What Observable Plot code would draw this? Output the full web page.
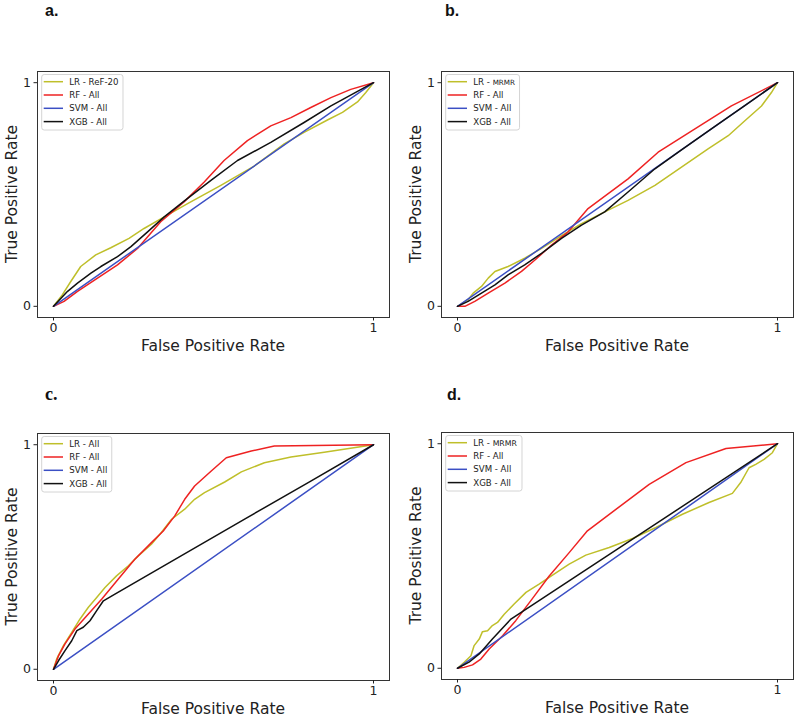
<!DOCTYPE html>
<html>
<head>
<meta charset="utf-8">
<script src="https://cdn.jsdelivr.net/npm/d3@7"></script>
<script src="https://cdn.jsdelivr.net/npm/@observablehq/plot@0.6"></script>
<style>
  html, body { margin: 0; padding: 0; background: #fff; }
  #root { position: relative; width: 797px; height: 718px; background: #fff; overflow: hidden; }
  #root svg.panel { position: absolute; }
  #overlay { position: absolute; left: 0; top: 0; pointer-events: none; }
</style>
</head>
<body>
<div id="root"></div>
<script>
// ---------- data ----------
const series = ["LR", "RF", "SVM", "XGB"];
const colors = ["#bfbf2a", "#ee2222", "#3b4fc4", "#111111"];
const xTicks = [0, 1];
const yTicks = [0, 1];
const xTitle = "False Positive Rate";
const yTitle = "True Positive Rate";
const panelLabels = ["a.", "b.", "c.", "d."];
const legendA = ["LR - ReF-20", "RF - All", "SVM - All", "XGB - All"];
const legendB = ["LR - MRMR", "RF - All", "SVM - All", "XGB - All"];
const legendC = ["LR - All", "RF - All", "SVM - All", "XGB - All"];
const legendD = ["LR - MRMR", "RF - All", "SVM - All", "XGB - All"];

// panel a
const aLR = [[0,0],[0.028,0.052],[0.054,0.111],[0.085,0.178],[0.132,0.230],[0.179,0.262],[0.236,0.304],[0.283,0.348],[0.346,0.400],[0.419,0.459],[0.523,0.541],[0.627,0.627],[0.721,0.726],[0.783,0.778],[0.856,0.833],[0.903,0.867],[0.95,0.914],[0.976,0.956],[1,1]];
const aRF = [[0,0],[0.033,0.022],[0.075,0.067],[0.1375,0.126],[0.2,0.185],[0.2625,0.259],[0.335,0.378],[0.408,0.467],[0.471,0.556],[0.533,0.652],[0.606,0.741],[0.679,0.807],[0.742,0.844],[0.804,0.889],[0.867,0.933],[0.929,0.970],[1,1]];
const aSVM = [[0,0],[1,1]];
const aXGB = [[0,0],[0.044,0.067],[0.075,0.104],[0.117,0.148],[0.148,0.178],[0.2,0.222],[0.242,0.267],[0.294,0.333],[0.346,0.4],[0.408,0.47],[0.492,0.563],[0.575,0.652],[0.679,0.733],[0.783,0.822],[0.867,0.896],[0.94,0.953],[1,1]];

// panel b
const bLR = [[0,0],[0.033,0.030],[0.049,0.059],[0.075,0.089],[0.096,0.126],[0.117,0.156],[0.158,0.178],[0.210,0.215],[0.2625,0.259],[0.325,0.316],[0.3875,0.370],[0.460,0.422],[0.533,0.474],[0.617,0.541],[0.7,0.622],[0.783,0.704],[0.846,0.763],[0.898,0.830],[0.95,0.896],[0.981,0.956],[1,1]];
const bRF = [[0,0],[0.023,0],[0.054,0.022],[0.096,0.059],[0.148,0.104],[0.2,0.156],[0.242,0.207],[0.294,0.274],[0.346,0.333],[0.408,0.437],[0.471,0.504],[0.533,0.570],[0.627,0.689],[0.742,0.793],[0.856,0.896],[1,1]];
const bSVM = [[0,0],[1,1]];
const bXGB = [[0,0],[0.033,0.022],[0.075,0.059],[0.117,0.096],[0.158,0.141],[0.210,0.185],[0.2625,0.237],[0.325,0.304],[0.3875,0.363],[0.460,0.422],[0.533,0.511],[0.617,0.615],[0.7,0.7],[0.8,0.8],[0.9,0.9],[1,1]];

// panel c
const cLR = [[0,0],[0.010,0.046],[0.031,0.105],[0.057,0.164],[0.083,0.224],[0.109,0.276],[0.135,0.32],[0.161,0.364],[0.197,0.416],[0.234,0.461],[0.265,0.505],[0.306,0.557],[0.337,0.609],[0.369,0.668],[0.41,0.713],[0.441,0.757],[0.472,0.787],[0.535,0.834],[0.587,0.879],[0.659,0.92],[0.742,0.945],[0.846,0.967],[1,1]];
const cRF = [[0,0],[0.016,0.061],[0.036,0.113],[0.067,0.179],[0.109,0.246],[0.151,0.313],[0.202,0.401],[0.254,0.49],[0.306,0.564],[0.343,0.616],[0.379,0.683],[0.41,0.757],[0.441,0.816],[0.493,0.883],[0.54,0.942],[0.618,0.972],[0.69,0.994],[1,1]];
const cSVM = [[0,0],[1,1]];
const cXGB = [[0,0],[0.016,0.039],[0.036,0.083],[0.057,0.127],[0.073,0.172],[0.093,0.187],[0.114,0.216],[0.135,0.261],[0.156,0.305],[0.192,0.335],[0.4,0.506],[0.6,0.671],[0.8,0.835],[1,1]];

// panel d
const dLR = [[0,0],[0.021,0.027],[0.042,0.056],[0.052,0.101],[0.068,0.130],[0.078,0.163],[0.094,0.167],[0.109,0.190],[0.125,0.204],[0.146,0.241],[0.177,0.286],[0.214,0.338],[0.255,0.375],[0.297,0.415],[0.349,0.464],[0.401,0.504],[0.474,0.538],[0.547,0.578],[0.620,0.627],[0.703,0.686],[0.786,0.738],[0.859,0.779],[0.885,0.827],[0.911,0.893],[0.932,0.908],[0.958,0.930],[0.984,0.960],[1,1]];
const dRF = [[0,0],[0.021,0.004],[0.047,0.015],[0.073,0.041],[0.099,0.086],[0.141,0.145],[0.182,0.212],[0.234,0.31],[0.286,0.41],[0.349,0.515],[0.406,0.612],[0.495,0.708],[0.599,0.819],[0.714,0.916],[0.839,0.979],[1,1]];
const dSVM = [[0,0],[1,1]];
const dXGB = [[0,0],[0.036,0.027],[0.068,0.064],[0.109,0.130],[0.167,0.219],[0.578,0.604],[1,1]];

// ---------- layout ----------
const layout = [
  {left: 0,   top: 0,   width: 400, height: 360, mt: 71, mr: 11, mb: 43, ml: 37, lab: [45, 15.5], labFont: "bold 16px 'Liberation Sans'"},
  {left: 400, top: 0,   width: 397, height: 360, mt: 71, mr: 4,  mb: 43, ml: 41, lab: [45, 15.5], labFont: "bold 16px 'Liberation Sans'"},
  {left: 0,   top: 360, width: 400, height: 358, mt: 73, mr: 11, mb: 38, ml: 37, lab: [45, 40],   labFont: "bold 18px 'Liberation Serif'"},
  {left: 400, top: 360, width: 397, height: 358, mt: 72, mr: 4,  mb: 39, ml: 41, lab: [47, 39.5], labFont: "bold 16px 'Liberation Sans'"}
];
const panelData = [
  [aLR, aRF, aSVM, aXGB],
  [bLR, bRF, bSVM, bXGB],
  [cLR, cRF, cSVM, cXGB],
  [dLR, dRF, dSVM, dXGB]
];
const legends = [legendA, legendB, legendC, legendD];

const root = document.getElementById("root");

panelData.forEach((sets, i) => {
  const L = layout[i];
  const lineMarks = sets.map((pts, k) =>
    Plot.line(pts.map(([x, y]) => ({x, y, series: series[k]})),
      {x: "x", y: "y", stroke: "series", strokeWidth: 1.5, strokeLinejoin: "round"}));
  const svg = Plot.plot({
    width: L.width, height: L.height,
    marginTop: L.mt, marginRight: L.mr, marginBottom: L.mb, marginLeft: L.ml,
    x: {domain: [-0.05, 1.05], label: null},
    y: {domain: [-0.05, 1.05], label: null},
    color: {domain: series, range: colors},
    style: {background: "transparent", fontFamily: "DejaVu Sans", color: "#222", overflow: "visible"},
    marks: [
      ...lineMarks,
      Plot.frame({stroke: "#333", strokeWidth: 1}),
      Plot.axisX(xTicks, {tickSize: 3.5, tickPadding: 2.5, fontSize: 12.5, label: null, tickFormat: d3.format("d")}),
      Plot.axisY(yTicks, {tickSize: 3.5, tickPadding: 3, fontSize: 12.5, label: null, tickFormat: d3.format("d")})
    ]
  });
  svg.classList.add("panel");
  svg.style.left = L.left + "px";
  svg.style.top = L.top + "px";
  root.appendChild(svg);
});

// ---------- overlay: panel labels, axis titles, legends ----------
const ov = d3.select(root).append("svg")
  .attr("id", "overlay").attr("width", 797).attr("height", 718);

layout.forEach((L, i) => {
  const fl = L.left + L.ml, fr = L.left + L.width - L.mr;
  const ft = L.top + L.mt, fb = L.top + L.height - L.mb;

  ov.append("text").attr("x", L.left + L.lab[0]).attr("y", L.top + L.lab[1])
    .style("font", L.labFont).attr("fill", "#111").text(panelLabels[i]);

  ov.append("text").attr("x", (fl + fr) / 2).attr("y", fb + 33.7)
    .attr("text-anchor", "middle").style("font", "15.5px 'DejaVu Sans'").attr("fill", "#222").text(xTitle);

  ov.append("text").attr("transform", `translate(${fl - 20.3},${(ft + fb) / 2}) rotate(-90)`)
    .attr("text-anchor", "middle").style("font", "15.5px 'DejaVu Sans'").attr("fill", "#222").text(yTitle);

  const g = ov.append("g");
  const box = g.append("rect").attr("x", fl + 4.7).attr("y", ft + 3.5)
    .attr("height", 55.5).attr("rx", 2.5)
    .attr("fill", "white").attr("fill-opacity", 0.85).attr("stroke", "#d4d4d4").attr("stroke-width", 1);
  let maxRight = 0;
  legends[i].forEach((lab, k) => {
    const cy = ft + 10.7 + k * 13.3;
    g.append("line").attr("x1", fl + 6.7).attr("x2", fl + 26).attr("y1", cy).attr("y2", cy)
      .attr("stroke", colors[k]).attr("stroke-width", 1.5);
    const t = g.append("text").attr("x", fl + 32.3).attr("y", cy + 3.1)
      .style("font", "8.6px 'DejaVu Sans'").attr("fill", "#222");
    if (lab.includes("MRMR")) {
      const parts = lab.split("MRMR");
      t.append("tspan").text(parts[0]);
      t.append("tspan").style("font-size", i === 3 ? "7.8px" : "7.2px").text("MRMR");
    } else {
      t.text(lab);
    }
    const bb = t.node().getBBox();
    maxRight = Math.max(maxRight, bb.x + bb.width);
  });
  box.attr("width", maxRight + 4.5 - (fl + 4.7));
});
</script>
</body>
</html>
